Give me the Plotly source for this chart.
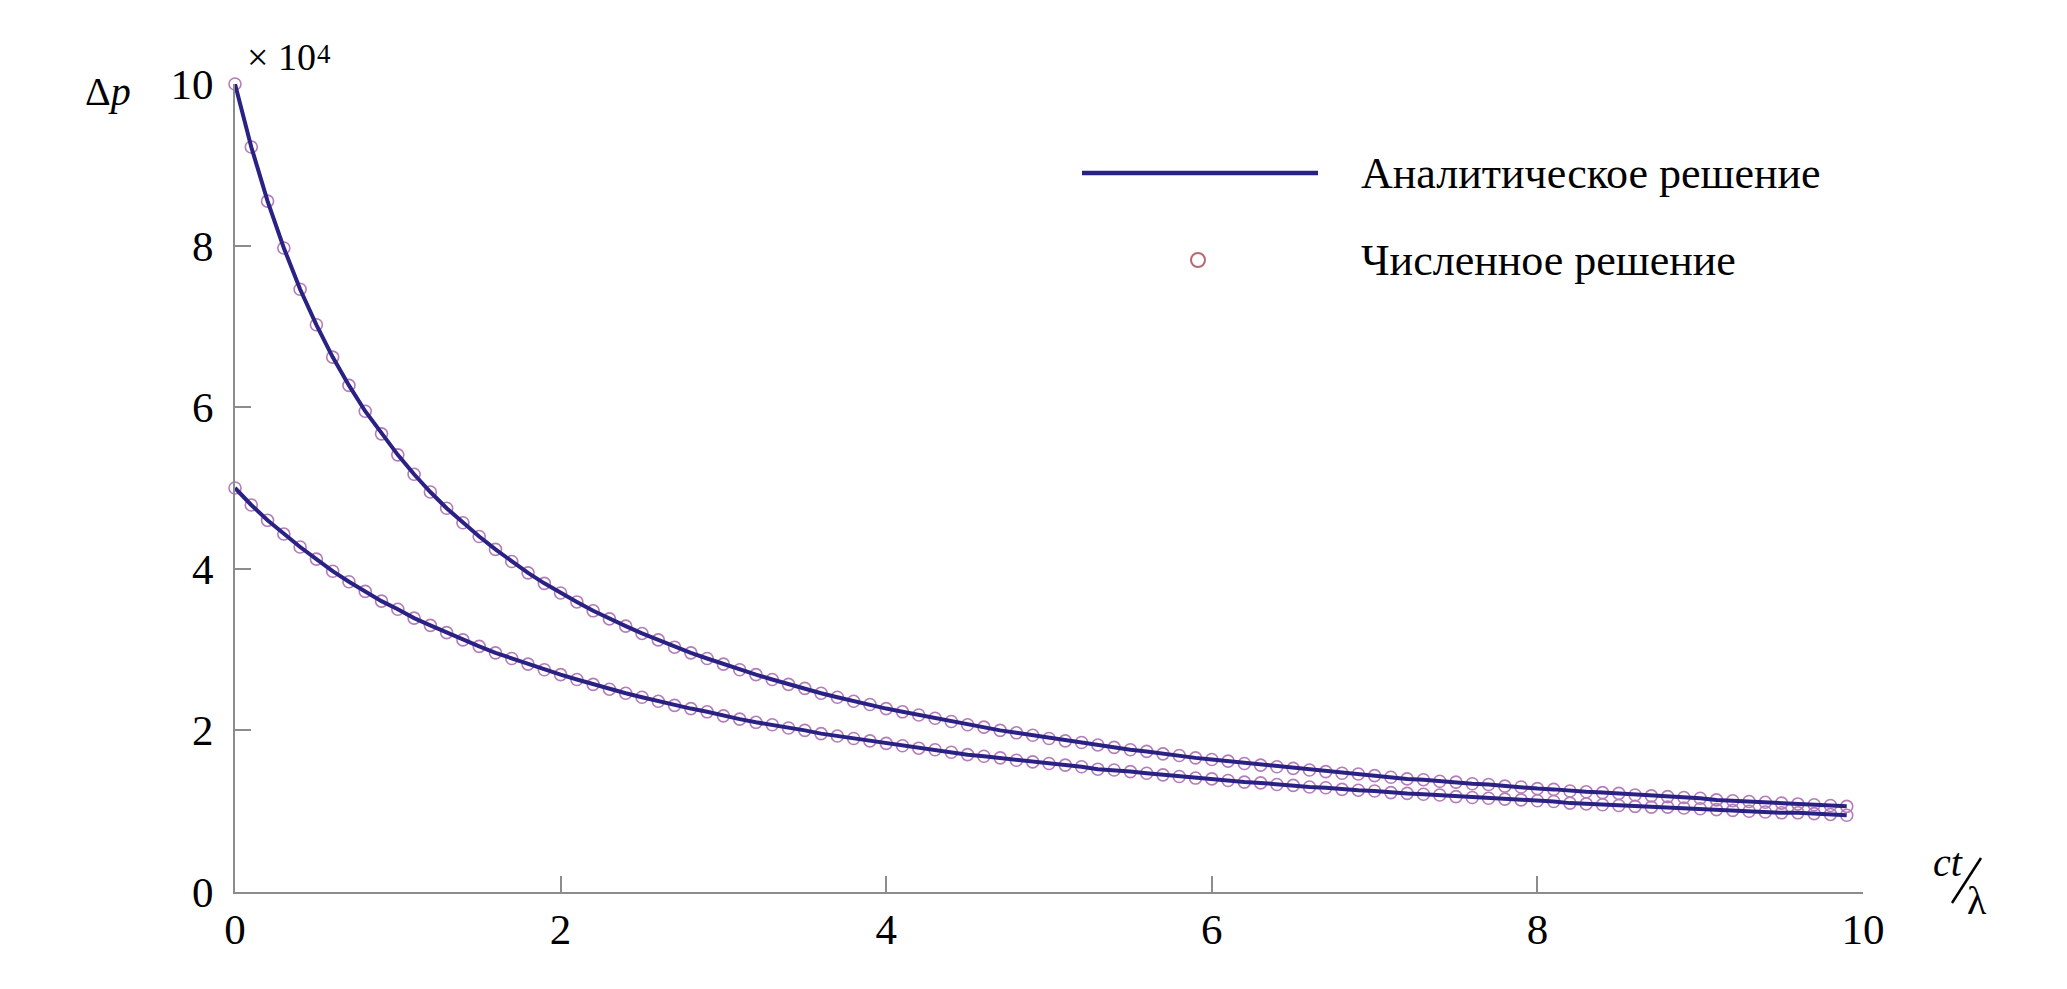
import plotly.graph_objects as go

# ---- data ----
ct_lambda = [0.0, 0.1, 0.2, 0.3, 0.4, 0.5, 0.6, 0.7, 0.8, 0.9,
             1.0, 1.1, 1.2, 1.3, 1.4, 1.5, 1.6, 1.7, 1.8, 1.9,
             2.0, 2.1, 2.2, 2.3, 2.4, 2.5, 2.6, 2.7, 2.8, 2.9,
             3.0, 3.1, 3.2, 3.3, 3.4, 3.5, 3.6, 3.7, 3.8, 3.9,
             4.0, 4.1, 4.2, 4.3, 4.4, 4.5, 4.6, 4.7, 4.8, 4.9,
             5.0, 5.1, 5.2, 5.3, 5.4, 5.5, 5.6, 5.7, 5.8, 5.9,
             6.0, 6.1, 6.2, 6.3, 6.4, 6.5, 6.6, 6.7, 6.8, 6.9,
             7.0, 7.1, 7.2, 7.3, 7.4, 7.5, 7.6, 7.7, 7.8, 7.9,
             8.0, 8.1, 8.2, 8.3, 8.4, 8.5, 8.6, 8.7, 8.8, 8.9,
             9.0, 9.1, 9.2, 9.3, 9.4, 9.5, 9.6, 9.7, 9.8, 9.9]

dp_upper = [10.00, 9.22, 8.55, 7.97, 7.46, 7.02, 6.62, 6.27, 5.95, 5.67,
            5.41, 5.17, 4.95, 4.75, 4.57, 4.40, 4.24, 4.09, 3.95, 3.82,
            3.70, 3.59, 3.48, 3.38, 3.29, 3.20, 3.12, 3.03, 2.96, 2.89,
            2.82, 2.75, 2.69, 2.63, 2.57, 2.52, 2.46, 2.41, 2.36, 2.32,
            2.27, 2.23, 2.19, 2.15, 2.11, 2.07, 2.04, 2.00, 1.97, 1.94,
            1.90, 1.87, 1.85, 1.82, 1.79, 1.76, 1.74, 1.71, 1.69, 1.66,
            1.64, 1.62, 1.59, 1.57, 1.55, 1.53, 1.51, 1.49, 1.47, 1.46,
            1.44, 1.42, 1.40, 1.39, 1.37, 1.36, 1.34, 1.33, 1.31, 1.30,
            1.28, 1.27, 1.25, 1.24, 1.23, 1.22, 1.20, 1.19, 1.18, 1.17,
            1.16, 1.14, 1.13, 1.12, 1.11, 1.10, 1.09, 1.08, 1.07, 1.06]

dp_lower = [5.00, 4.79, 4.60, 4.43, 4.27, 4.12, 3.97, 3.84, 3.72, 3.60,
            3.50, 3.39, 3.30, 3.21, 3.12, 3.04, 2.96, 2.89, 2.82, 2.75,
            2.69, 2.63, 2.57, 2.51, 2.46, 2.41, 2.36, 2.31, 2.27, 2.23,
            2.18, 2.14, 2.10, 2.07, 2.03, 2.00, 1.96, 1.93, 1.90, 1.87,
            1.84, 1.81, 1.78, 1.76, 1.73, 1.70, 1.68, 1.66, 1.63, 1.61,
            1.59, 1.57, 1.55, 1.52, 1.51, 1.49, 1.47, 1.45, 1.43, 1.41,
            1.40, 1.38, 1.36, 1.35, 1.33, 1.32, 1.30, 1.29, 1.27, 1.26,
            1.25, 1.23, 1.22, 1.21, 1.20, 1.18, 1.17, 1.16, 1.15, 1.14,
            1.13, 1.12, 1.10, 1.09, 1.08, 1.07, 1.06, 1.05, 1.05, 1.04,
            1.03, 1.02, 1.01, 1.00, 0.99, 0.98, 0.98, 0.97, 0.96, 0.95]

x_ticks = [0, 2, 4, 6, 8, 10]
y_ticks = [0, 2, 4, 6, 8, 10]
legend_line_label = "Аналитическое решение"
legend_marker_label = "Численное решение"

# ---- style ----
OFF = 8                      # page body margin in the browser
W, H = 2067 - 2 * OFF, 989 - 2 * OFF
# plot area in screen pixels
SL, SR, ST, SB = 235, 1863, 84, 892
L, R, T, B = SL - OFF, SR - OFF, ST - OFF, SB - OFF
FONT = "Liberation Serif, Times New Roman, serif"
LINE_COLOR = "#2A2185"
MARK_COLOR = "#B57CBA"
LEG_MARK_COLOR = "#B86872"
AXIS_COLOR = "#8C8C8C"


def px(xp, yp):
    """screen pixel -> paper fraction"""
    return (xp - SL) / (SR - SL), (SB - yp) / (SB - ST)


fig = go.Figure()
for ys in (dp_upper, dp_lower):
    fig.add_trace(go.Scatter(
        x=ct_lambda, y=ys, mode="markers", showlegend=False, cliponaxis=False,
        marker=dict(symbol="circle-open", size=12, color=MARK_COLOR,
                    line=dict(width=1.6, color=MARK_COLOR))))
for ys in (dp_upper, dp_lower):
    fig.add_trace(go.Scatter(
        x=ct_lambda, y=ys, mode="lines", showlegend=False, cliponaxis=False,
        line=dict(color=LINE_COLOR, width=4)))

axis_common = dict(
    showgrid=False, zeroline=False, showline=True, linecolor=AXIS_COLOR,
    linewidth=2, ticks="inside", ticklen=16, tickwidth=2, tickcolor=AXIS_COLOR,
    tickfont=dict(family=FONT, size=43, color="black"), mirror=False,
)
fig.update_xaxes(range=[0, 10], tickvals=x_ticks, ticktext=[str(v) for v in x_ticks],
                 ticklabelstandoff=-2, **axis_common)
fig.update_yaxes(range=[0, 10], tickvals=y_ticks, ticktext=[str(v) for v in y_ticks],
                 ticklabelstandoff=11, **axis_common)


def label(sx, sy, text, size, xanchor="center"):
    ax, ay = px(sx, sy)
    return dict(x=ax, y=ay, xref="paper", yref="paper", showarrow=False,
                xanchor=xanchor, yanchor="middle", text=text,
                font=dict(family=FONT, size=size, color="black"))


annotations = [
    label(108, 91, "Δ<i>p</i>", 40),
    label(281, 57, "× 10", 38),
    label(324, 54, "4", 27),
    label(1948, 862, "<i>ct</i>", 40),
    label(1977, 900, "λ", 40),
    label(1359, 173, legend_line_label, 44, xanchor="left"),
    label(1359, 261, legend_marker_label, 44, xanchor="left"),
]

shapes = []
# slash of ct/λ
x0, y0 = px(1981, 858)
x1, y1 = px(1952, 903)
shapes.append(dict(type="line", xref="paper", yref="paper", x0=x0, y0=y0, x1=x1, y1=y1,
                   line=dict(color="black", width=2.5)))
# legend line sample
x0, y0 = px(1082, 173)
x1, y1 = px(1318, 173)
shapes.append(dict(type="line", xref="paper", yref="paper", x0=x0, y0=y0, x1=x1, y1=y1,
                   line=dict(color=LINE_COLOR, width=4.5)))
# legend marker sample
cx0, cy0 = px(1191, 253)
cx1, cy1 = px(1205, 267)
shapes.append(dict(type="circle", xref="paper", yref="paper", x0=cx0, y0=cy1, x1=cx1, y1=cy0,
                   line=dict(color=LEG_MARK_COLOR, width=2)))

fig.update_layout(
    width=W, height=H, autosize=False,
    margin=dict(l=L, r=W - R, t=T, b=H - B, pad=0),
    plot_bgcolor="white", paper_bgcolor="white",
    font=dict(family=FONT, color="black"),
    annotations=annotations, shapes=shapes, showlegend=False,
)

fig.write_html("out.html")
